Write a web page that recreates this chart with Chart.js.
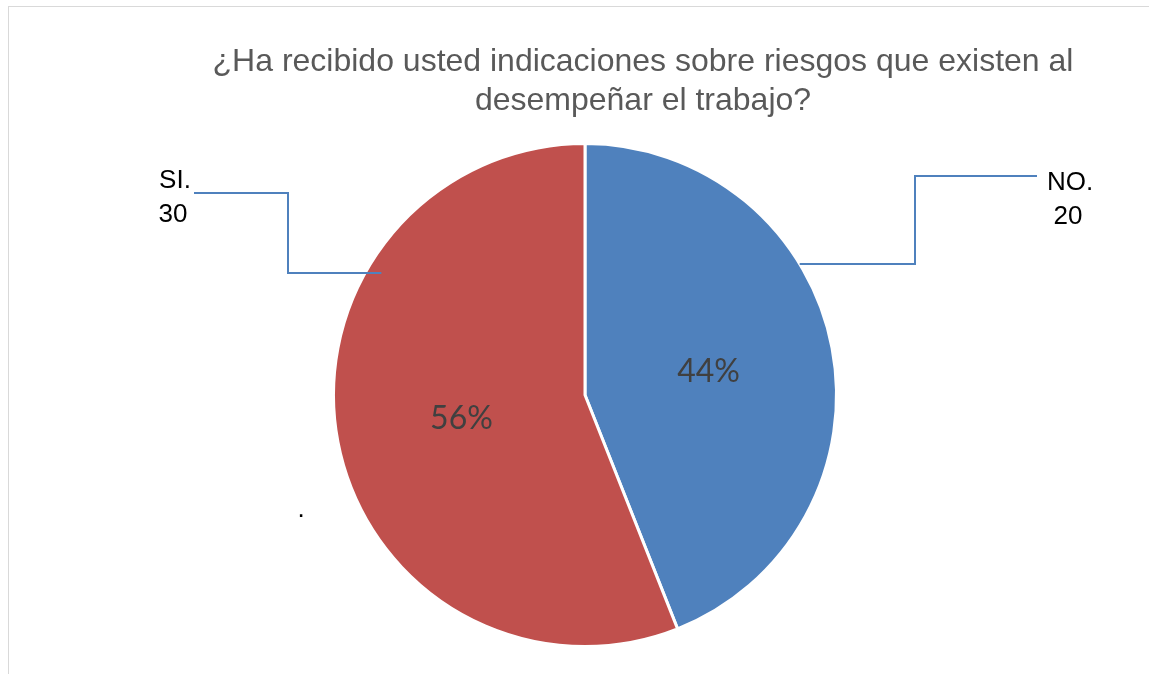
<!DOCTYPE html>
<html>
<head>
<meta charset="utf-8">
<script src="https://cdn.jsdelivr.net/npm/chart.js@4"></script>
<style>
  body { margin: 0; background: #fff; }
  #wrap { position: relative; width: 1149px; height: 674px; }
  #frame { position: absolute; left: 8px; top: 6px; right: -2px; bottom: -2px; border-top: 1px solid #d9d9d9; border-left: 1px solid #d9d9d9; }
  canvas { position: absolute; left: 0; top: 0; }
</style>
</head>
<body>
<div id="wrap">
  <div id="frame"></div>
  <canvas id="pie" width="1149" height="674"></canvas>
</div>
<script>
// data
const titleLines = ["¿Ha recibido usted indicaciones sobre riesgos que existen al", "desempeñar el trabajo?"]
const categories = ["NO.", "SI."]
const counts = [20, 30]
const percents = [44, 56]
const colors = ['#4F81BD', '#C0504D']

// outside labels with elbow leader lines
const calloutPlugin = {
    id: 'callouts',
    afterDatasetsDraw(chart) {
        const ctx = chart.ctx
        const arcs = chart.getDatasetMeta(0).data

        // percent labels inside slices
        ctx.save()
        ctx.fillStyle = '#404040'
        ctx.font = '32px Lato'
        ctx.textAlign = 'center'
        ctx.textBaseline = 'middle'
        arcs.forEach((arc, i) => {
            const p = arc.tooltipPosition()
            ctx.fillText(percents[i] + '%', p.x, p.y)
        })
        ctx.restore()

        // leader lines: where they touch the slice (fraction of sweep / radius) and label anchor
        const lines = [
            { f: 0.37, r: 1.0, lx: 1037, ly: 176, ex: 915, tx: 1070, ty: 183 },
            { f: 0.707, r: 0.944, lx: 194, ly: 193, ex: 288, tx: 175, ty: 181 }
        ]
        ctx.save()
        ctx.strokeStyle = '#4F81BD'
        ctx.lineWidth = 2
        arcs.forEach((arc, i) => {
            const L = lines[i]
            const ang = arc.startAngle + (arc.endAngle - arc.startAngle) * L.f
            const px = arc.x + Math.cos(ang) * arc.outerRadius * L.r
            const py = arc.y + Math.sin(ang) * arc.outerRadius * L.r
            ctx.beginPath()
            ctx.moveTo(L.lx, L.ly)
            ctx.lineTo(L.ex, L.ly)
            ctx.lineTo(L.ex, py)
            ctx.lineTo(px, py)
            ctx.stroke()

            ctx.fillStyle = '#000'
            ctx.font = '26px "Liberation Sans"'
            ctx.textAlign = 'center'
            ctx.textBaseline = 'middle'
            ctx.fillText(categories[i], L.tx, L.ty)
            ctx.fillText(String(counts[i]), L.tx - 2, L.ty + 34)
        })
        ctx.restore()

        // stray dot
        ctx.save()
        ctx.fillStyle = '#000'
        ctx.font = '26px "Liberation Sans"'
        ctx.textAlign = 'center'
        ctx.fillText('.', 301, 517)
        ctx.restore()

        // title
        ctx.save()
        ctx.fillStyle = '#595959'
        ctx.font = '32px "Liberation Sans"'
        ctx.textAlign = 'center'
        ctx.textBaseline = 'middle'
        titleLines.forEach((t, i) => ctx.fillText(t, 643, 62 + i * 39))
        ctx.restore()
    }
}

const ctx = document.getElementById("pie").getContext("2d")
new Chart(ctx, {
    type: 'pie',
    data: {
        labels: categories,
        datasets: [{
            data: percents,
            backgroundColor: colors,
            borderColor: '#ffffff',
            borderWidth: 3
        }]
    },
    options: {
        responsive: false,
        animation: false,
        layout: {
            padding: { top: 142, bottom: 26, left: 332, right: 311 }
        },
        plugins: {
            legend: { display: false },
            tooltip: { enabled: false },
            title: { display: false }
        }
    },
    plugins: [calloutPlugin]
});
</script>
</body>
</html>
